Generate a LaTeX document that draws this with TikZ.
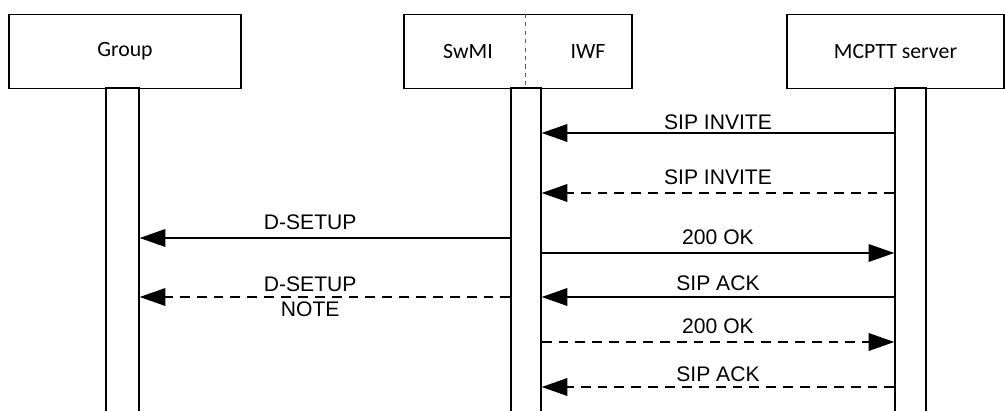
\documentclass[tikz,border=0pt]{standalone}
\usepackage{fontspec}
\setmainfont{Liberation Sans}
\newfontfamily\headfont{Carlito}
\usetikzlibrary{positioning,arrows.meta}
\tikzset{
  msgarrow/.style={-{Triangle[length=0.64cm, width=0.44cm]}, line width=1pt},
  msgdash/.style={msgarrow, dash pattern=on 7pt off 5pt},
  lifebox/.style={draw, line width=1pt, minimum width=#1, minimum height=1.85cm, inner sep=0pt, font=\headfont\fontsize{15.5}{18}\selectfont},
  lifebar/.style={draw, line width=1pt, minimum width=#1, minimum height=8.3cm, inner sep=0pt},
  headtext/.style={font=\headfont\fontsize{15.5}{18}\selectfont, inner sep=0pt},
  msglabel/.style={midway, above, inner sep=5.5pt, text depth=0pt, font=\fontsize{15}{18}\selectfont}
}

\begin{document}
\begin{tikzpicture}[x=0.025cm, y=-0.025cm]
  \useasboundingbox (0,0) rectangle (1005,411);

  % lifeline heads
  \node[lifebox=5.8cm] (group) at (125,51.5) {Group};
  \node[lifebox=5.7cm] (swmi) at (518,51.5) {};
  \node[lifebox=5.425cm] (server) at (895.5,51.5) {MCPTT server};
  \node[headtext] (swmitext) at (468,52) {SwMI};
  \node[headtext] (iwftext) at (588,52) {IWF};
  \coordinate (divider) at (525,0);
  \draw[gray!70!black, dashed, line width=0.6pt] (swmi.north -| divider) -- (swmi.south -| divider);

  % activation bars
  \node[lifebar=0.825cm] (grpbar) at (122.5,254) {};
  \node[lifebar=0.75cm] (iwfbar) at (526,254) {};
  \node[lifebar=0.775cm] (srvbar) at (910.5,254) {};

  % messages
  \coordinate (m1) at (0,133);
  \coordinate (m2) at (0,193);
  \coordinate (m3) at (0,238);
  \coordinate (m4) at (0,253);
  \coordinate (m5) at (0,297);
  \coordinate (m6) at (0,342);
  \coordinate (m7) at (0,387);

  \draw[msgarrow] (srvbar.west |- m1) -- node[msglabel, inner sep=2pt] {SIP INVITE} (iwfbar.east |- m1);
  \draw[msgdash] (srvbar.west |- m2) -- node[msglabel] {SIP INVITE} (iwfbar.east |- m2);
  \draw[msgarrow] (iwfbar.west |- m3) -- node[msglabel, pos=0.54] {D-SETUP} (grpbar.east |- m3);
  \draw[msgarrow] (iwfbar.east |- m4) -- node[msglabel] {200 OK} (srvbar.west |- m4);
  \draw[msgdash] (iwfbar.west |- m5) -- node[pos=0.54, align=center, inner sep=0pt, font=\fontsize{15}{17.5}\selectfont] {D-SETUP\\NOTE} (grpbar.east |- m5);
  \draw[msgarrow] (srvbar.west |- m5) -- node[msglabel, inner sep=3.8pt] {SIP ACK} (iwfbar.east |- m5);
  \draw[msgdash] (iwfbar.east |- m6) -- node[msglabel] {200 OK} (srvbar.west |- m6);
  \draw[msgdash] (srvbar.west |- m7) -- node[msglabel, inner sep=3.5pt] {SIP ACK} (iwfbar.east |- m7);
\end{tikzpicture}
\end{document}
